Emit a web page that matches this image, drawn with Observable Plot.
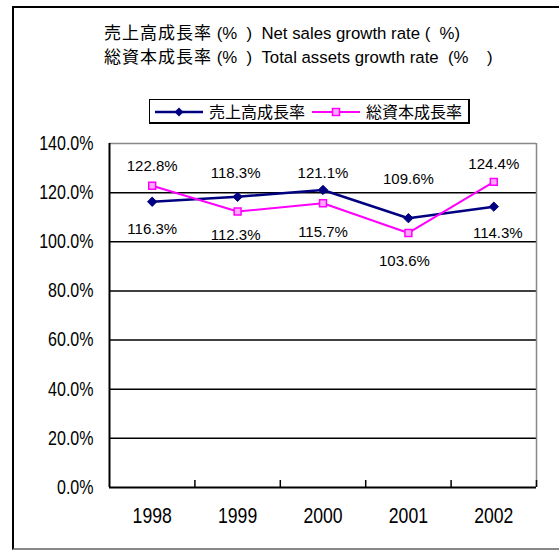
<!DOCTYPE html>
<html>
<head>
<meta charset="utf-8">
<script src="https://cdn.jsdelivr.net/npm/d3@7"></script>
<script src="https://cdn.jsdelivr.net/npm/@observablehq/plot@0.6"></script>
<style>
  body { margin: 0; background: #fff; }
  #wrap { position: relative; width: 559px; height: 551px; overflow: hidden; background: #fff;
          font-family: "Liberation Sans", Arial, "Noto Sans CJK JP", sans-serif; color: #000; }
  #border { position: absolute; left: 12px; top: 6px; width: 560px; height: 540px;
            border-left: 2px solid #000; border-top: 2px solid #000; border-bottom: 2px solid #888; }
  #chart { position: absolute; left: 0; top: 0; }
  #title { position: absolute; left: 104px; top: 21px; font-size: 16.8px; line-height: 22px; white-space: pre; z-index: 2; }
  #title .cjk { font-family: "Noto Sans CJK JP", sans-serif; font-size: 17px; letter-spacing: 1px; }
  #legend { position: absolute; left: 149px; top: 99px; width: 318px; height: 22px;
            border: 1.5px solid #000; border-right-width: 2px; border-bottom-width: 2px; background: #fff; z-index: 2; }
  #legend .item { position: absolute; top: 0; height: 22px; display: flex; align-items: center; }
  #legend .lab { font-family: "Noto Sans CJK JP", sans-serif; font-size: 16px; line-height: 22px; margin-left: 4px; }
</style>
</head>
<body>
<div id="wrap">
  <div id="border"></div>
  <div id="chart"></div>
  <div id="title"></div>
  <div id="legend"></div>
</div>
<script>
// ---- data ----
const years = [1998, 1999, 2000, 2001, 2002];
const salesGrowth = [116.3, 118.3, 121.1, 109.6, 114.3];   // 売上高成長率
const assetsGrowth = [122.8, 112.3, 115.7, 103.6, 124.4];  // 総資本成長率
const yTicks = [0, 20, 40, 60, 80, 100, 120, 140];
const seriesNames = ["売上高成長率", "総資本成長率"];
const titleLines = [
  ["売上高成長率", " (%  )  Net sales growth rate (  %)"],
  ["総資本成長率", " (%  )  Total assets growth rate  (%    )"]
];

// ---- styling / placement (not data) ----
const colors = ["#000080", "#ff00ff"];
const salesLabelOffset = {dx: [0, -2, 0, 0, 4], dy: [27, -24, -17, -39, 27]};
const assetsLabelOffset = {dx: [0, -2, 0, -4, 0], dy: [-20, 24, 29, 28, -18]};

const sales = years.map((y, i) => ({year: y, value: salesGrowth[i]}));
const assets = years.map((y, i) => ({year: y, value: assetsGrowth[i]}));
const boundaries = years.map(y => y + 0.5);
const fmt = v => v.toFixed(1) + "%";

function labels(data, off) {
  return data.map((d, i) => Plot.text([d], {
    x: "year", y: "value", text: d => fmt(d.value),
    dx: off.dx[i], dy: off.dy[i], fontSize: 15, fill: "#000",
    fontFamily: "Liberation Sans, Arial, sans-serif"
  }));
}

const chart = Plot.plot({
  width: 559, height: 551,
  marginLeft: 109, marginRight: 23, marginTop: 143, marginBottom: 64,
  style: {background: "transparent", fontFamily: "Liberation Sans, Arial, sans-serif", color: "#000"},
  x: {type: "linear", domain: [1997.5, 2002.5], axis: null, label: null},
  y: {domain: [0, 140], axis: null, label: null},
  marks: [
    Plot.ruleY(yTicks.filter(t => t > 0 && t < 140), {stroke: "#000", strokeWidth: 1.5}),
    Plot.ruleY([140], {stroke: "#888", strokeWidth: 1.5}),
    Plot.ruleX([2002.5], {stroke: "#888", strokeWidth: 1.5}),
    Plot.ruleX([1997.5], {stroke: "#000", strokeWidth: 2}),
    Plot.ruleY([0], {stroke: "#000", strokeWidth: 2}),
    Plot.axisX({ticks: boundaries, tickSize: 7, dy: -7, tickFormat: () => "", label: null, strokeWidth: 1.5, stroke: "#000"}),
    Plot.axisX({ticks: years, tickSize: 0, tickPadding: 20, tickFormat: d => String(d), label: null,
                fontSize: 22, fill: "#000"}),
    Plot.axisY({ticks: yTicks, tickSize: 0, tickPadding: 16, tickFormat: fmt, label: null,
                fontSize: 20, fill: "#000"}),
    Plot.line(sales, {x: "year", y: "value", stroke: colors[0], strokeWidth: 2.5}),
    Plot.line(assets, {x: "year", y: "value", stroke: colors[1], strokeWidth: 2}),
    Plot.dot(sales, {x: "year", y: "value", symbol: "diamond2", r: 4.2, fill: colors[0], stroke: colors[0], strokeWidth: 1}),
    Plot.dot(assets, {x: "year", y: "value", symbol: "square", r: 3.9, fill: "#ffaaff", stroke: colors[1], strokeWidth: 1.5}),
    ...labels(sales, salesLabelOffset),
    ...labels(assets, assetsLabelOffset)
  ]
});
document.getElementById("chart").appendChild(chart);

// condense the axis tick labels horizontally (the reference uses a narrow face)
d3.select(chart).selectAll('g[aria-label="y-axis tick label"] text, g[aria-label="x-axis tick label"] text')
  .each(function () {
    const len = this.getComputedTextLength();
    if (len > 0) {
      this.setAttribute("textLength", (len * 0.8).toFixed(1));
      this.setAttribute("lengthAdjust", "spacingAndGlyphs");
    }
  });

// ---- title ----
const title = document.getElementById("title");
titleLines.forEach((parts) => {
  const line = document.createElement("div");
  const c = document.createElement("span"); c.className = "cjk"; c.textContent = parts[0];
  const l = document.createElement("span"); l.textContent = parts[1];
  line.appendChild(c); line.appendChild(l);
  title.appendChild(line);
});

// ---- legend ----
const legend = document.getElementById("legend");
const legendX = [5, 162];
seriesNames.forEach((name, i) => {
  const item = document.createElement("div");
  item.className = "item";
  item.style.left = legendX[i] + "px";
  const sample = d3.create("svg").attr("width", 50).attr("height", 22);
  sample.append("line").attr("x1", 0).attr("x2", 48).attr("y1", 12).attr("y2", 12)
    .attr("stroke", colors[i]).attr("stroke-width", i === 0 ? 2.5 : 2);
  if (i === 0) {
    sample.append("path").attr("d", "M24,7.5L28.5,12L24,16.5L19.5,12Z").attr("fill", colors[0]);
  } else {
    sample.append("rect").attr("x", 20.5).attr("y", 8.5).attr("width", 7).attr("height", 7)
      .attr("fill", "#ffaaff").attr("stroke", colors[1]).attr("stroke-width", 1.5);
  }
  item.appendChild(sample.node());
  const lab = document.createElement("span");
  lab.className = "lab"; lab.textContent = name;
  item.appendChild(lab);
  legend.appendChild(item);
});
</script>
</body>
</html>
